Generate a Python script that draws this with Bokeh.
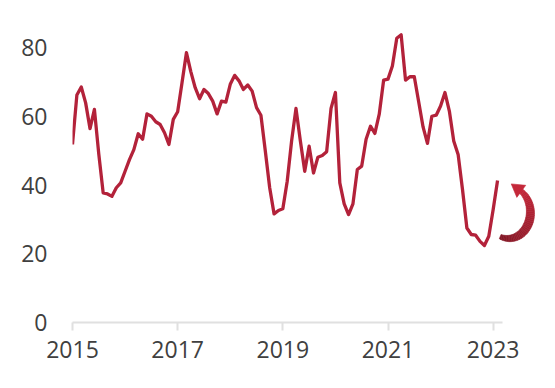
import numpy as np
from bokeh.plotting import figure
from bokeh.models import FixedTicker, Range1d, ColumnDataSource
from bokeh.embed import file_html
from bokeh.resources import INLINE

# ---- data (monthly, starting Jan 2015) ----
start_year = 2015
values = [51.8, 66.2, 68.5, 63.9, 56.4, 62.0, 49.0, 37.7, 37.4, 36.7, 39.2, 40.6,
          44.0, 47.4, 50.3, 54.9, 53.3, 60.7, 60.0, 58.4, 57.6, 55.2, 51.8, 59.1,
          61.3, 69.8, 78.5, 73.0, 68.3, 65.1, 67.8, 66.6, 64.4, 60.7, 64.4, 64.1,
          69.3, 71.9, 70.3, 67.8, 69.1, 67.3, 62.5, 60.3, 49.9, 39.2, 31.6, 32.6,
          33.1, 41.1, 52.8, 62.3, 52.8, 44.0, 51.3, 43.5, 48.1, 48.6, 49.7, 62.3,
          66.9, 40.6, 34.5, 31.4, 34.5, 44.5, 45.5, 53.3, 57.1, 55.0, 60.6, 70.5,
          70.8, 74.6, 82.7, 83.7, 70.5, 71.5, 71.5, 64.2, 56.9, 52.1, 60.0, 60.3,
          63.0, 66.9, 61.5, 52.8, 48.9, 38.7, 27.5, 25.6, 25.4, 23.6, 22.4, 25.1,
          32.9, 41.3]
years = [start_year + i / 12 for i in range(len(values))]
x_ticks = [2015, 2017, 2019, 2021, 2023]
y_ticks = [0, 20, 40, 60, 80]

# ---- layout ----
FRAME_W, FRAME_H = 468, 304
X0, X1 = 2015.0, 2023.9
Y0, Y1 = 0.0, 88.44
AXIS_END = 2023.17

p = figure(frame_width=FRAME_W, frame_height=FRAME_H,
           min_border_left=72, min_border_right=7, min_border_top=18, min_border_bottom=58,
           x_range=Range1d(X0, X1), y_range=Range1d(Y0, Y1),
           output_backend="svg", toolbar_location=None)
p.outline_line_color = None
p.xgrid.visible = False
p.ygrid.visible = False
p.background_fill_color = "white"
p.border_fill_color = "white"

LINE_COLOR = "#b3223a"
src = ColumnDataSource(dict(x=years, y=values))
p.line("x", "y", source=src, line_color=LINE_COLOR, line_width=3.3, line_join="round")

# ---- curved arrow decoration ----
px_x = FRAME_W / (X1 - X0)
px_y = FRAME_H / (Y1 - Y0)
cx, cy = 2023.29, 32.0
rx, ry = 22.0, 26.0
N = 40
th = np.linspace(np.radians(-112), np.radians(58), N + 1)
frac = (th - th[0]) / (th[-1] - th[0])
thick = 4.0 + 4.5 * np.sin(frac * np.pi * 0.9 + 0.15)

def to_data(dx, dy):
    return cx + dx / px_x, cy + dy / px_y

c0 = np.array([130, 24, 38])
c1 = np.array([196, 40, 58])
xs, ys, cols = [], [], []
for i in range(N):
    a, b = th[i], th[i + 1]
    ta, tb = thick[i], thick[i + 1]
    pts = [((rx + ta / 2) * np.cos(a), (ry + ta / 2) * np.sin(a)),
           ((rx + tb / 2) * np.cos(b), (ry + tb / 2) * np.sin(b)),
           ((rx - tb / 2) * np.cos(b), (ry - tb / 2) * np.sin(b)),
           ((rx - ta / 2) * np.cos(a), (ry - ta / 2) * np.sin(a))]
    dx = [q[0] for q in pts]
    dy = [q[1] for q in pts]
    X, Y = to_data(np.array(dx), np.array(dy))
    xs.append(list(X)); ys.append(list(Y))
    c = (c0 + (c1 - c0) * (i / (N - 1))).astype(int)
    cols.append("#%02x%02x%02x" % tuple(c))

# arrowhead
te = th[-1]
P = np.array([rx * np.cos(te), ry * np.sin(te)])
d = np.array([-rx * np.sin(te), ry * np.cos(te)]); d /= np.linalg.norm(d)
n = np.array([d[1], -d[0]])
tip = P + d * 11
b1 = P - d * 1.5 + n * 7.5
b2 = P - d * 1.5 - n * 7.5
hx, hy = to_data(np.array([tip[0], b1[0], b2[0]]), np.array([tip[1], b1[1], b2[1]]))
xs.append(list(hx)); ys.append(list(hy)); cols.append("#c4283a")

p.patches(xs=xs, ys=ys, fill_color=cols, line_color=cols, line_width=0.6)

# ---- axes ----
FONT = "Open Sans"
LABEL_COLOR = "#404040"

xa = p.xaxis[0]
xa.ticker = FixedTicker(ticks=x_ticks)
xa.bounds = (X0, AXIS_END)
xa.axis_line_color = "#e0e0e0"
xa.axis_line_width = 2
xa.major_tick_line_color = "#e0e0e0"
xa.major_tick_line_width = 2
xa.major_tick_out = 8
xa.major_tick_in = 0
xa.minor_tick_line_color = None
xa.major_label_text_font = FONT
xa.major_label_text_font_size = "23px"
xa.major_label_text_color = LABEL_COLOR
xa.major_label_standoff = 10

ya = p.yaxis[0]
ya.ticker = FixedTicker(ticks=y_ticks)
ya.axis_line_color = None
ya.major_tick_line_color = None
ya.minor_tick_line_color = None
ya.major_tick_out = 0
ya.major_tick_in = 0
ya.major_label_text_font = FONT
ya.major_label_text_font_size = "23px"
ya.major_label_text_color = LABEL_COLOR
ya.major_label_standoff = 25

open("out.html", "w").write(file_html(p, INLINE))
